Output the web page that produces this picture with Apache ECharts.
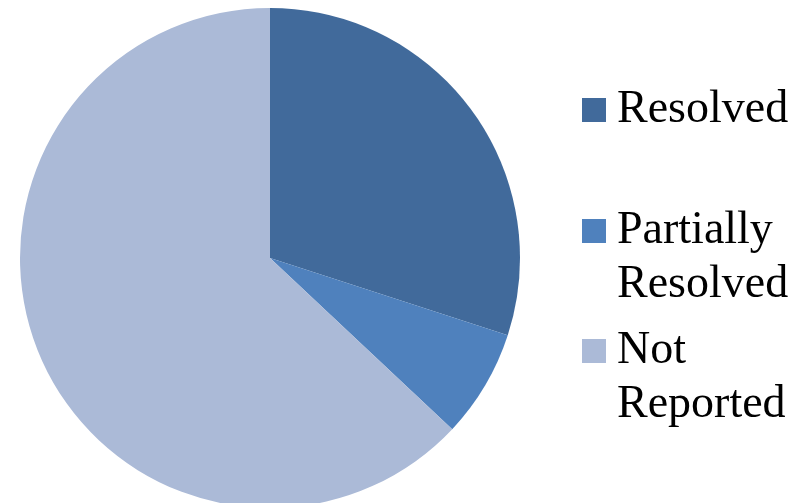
<!DOCTYPE html>
<html>
<head>
<meta charset="utf-8">
<script src="https://cdn.jsdelivr.net/npm/echarts@6/dist/echarts.min.js"></script>
<style>
html, body { margin: 0; padding: 0; background: #fff; }
#chart { width: 805px; height: 503px; }
</style>
</head>
<body>
<div id="chart"></div>
<script>
var CATEGORIES = ['Resolved', 'Partially\nResolved', 'Not\nReported'];
var VALUES = [30, 7, 63];
var COLORS = ['#416a9b', '#4f81bd', '#abbad7'];

var LEGEND_FONT = 'Liberation Serif, Times New Roman, serif';
var LINE_H = 54;

// marker sits beside the first text line: a blank leading line keeps it there
function buildLegend(name, top, multiLine) {
	return {
		orient: 'vertical',
		left: 577,
		top: top,
		icon: 'rect',
		itemWidth: 24,
		itemHeight: 24,
		selectedMode: false,
		data: [name],
		formatter: function(n) {
			return multiLine ? '\n' + n : n;
		},
		textStyle: {
			fontFamily: LEGEND_FONT,
			fontSize: 46,
			lineHeight: LINE_H,
			color: '#000',
			padding: [0, 0, 0, 6]
		}
	};
}

var pieData = [];
for (var i = 0; i < CATEGORIES.length; i++) {
	pieData.push({ name: CATEGORIES[i], value: VALUES[i], itemStyle: { color: COLORS[i] } });
}

var chart = echarts.init(document.getElementById('chart'));
chart.setOption({
	animation: false,
	legend: [
		buildLegend(CATEGORIES[0], 78, false),
		buildLegend(CATEGORIES[1], 145, true),
		buildLegend(CATEGORIES[2], 265, true)
	],
	series: [{
		type: 'pie',
		center: [270, 258],
		radius: 250,
		startAngle: 90,
		clockwise: true,
		label: { show: false },
		labelLine: { show: false },
		emphasis: { disabled: true },
		itemStyle: { borderWidth: 0 },
		data: pieData
	}]
});
</script>
</body>
</html>
